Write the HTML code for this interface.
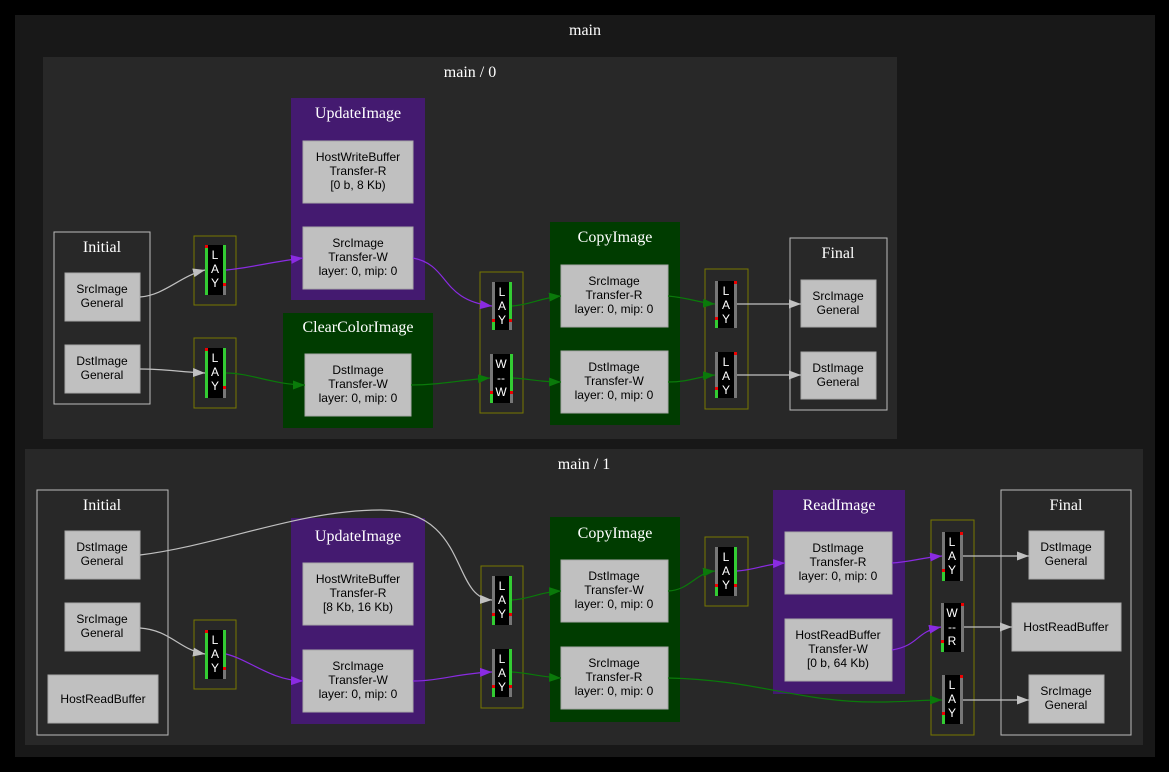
<!DOCTYPE html>
<html><head><meta charset="utf-8"><style>
html,body{margin:0;padding:0;background:#000;}
svg{display:block}
.cl{font-family:"Liberation Serif",serif;font-size:16px;fill:#fff;text-anchor:middle}
.nt{font-family:"Liberation Sans",sans-serif;font-size:12px;fill:#000;text-anchor:middle}
.bt{font-family:"Liberation Sans",sans-serif;font-size:12px;fill:#fff;text-anchor:middle}
.n{fill:#c0c0c0;stroke:#a8a8a8}
.g{stroke:#c0c0c0;fill:none;stroke-width:1.2}
.p{stroke:#8a2be2;fill:none;stroke-width:1.2}
.e{stroke:#0a7a0a;fill:none;stroke-width:1.2}
.bb{fill:none;stroke:#787800}
</style></head><body>
<svg width="1169" height="772" viewBox="0 0 1169 772" xmlns="http://www.w3.org/2000/svg">
<defs>
<marker id="ag" markerWidth="12" markerHeight="9" refX="12" refY="4.5" orient="auto" markerUnits="userSpaceOnUse"><path d="M0,0L12,4.5L0,9z" fill="#c0c0c0"/></marker>
<marker id="ap" markerWidth="12" markerHeight="9" refX="12" refY="4.5" orient="auto" markerUnits="userSpaceOnUse"><path d="M0,0L12,4.5L0,9z" fill="#8a2be2"/></marker>
<marker id="ae" markerWidth="12" markerHeight="9" refX="12" refY="4.5" orient="auto" markerUnits="userSpaceOnUse"><path d="M0,0L12,4.5L0,9z" fill="#0a7a0a"/></marker>
</defs>
<rect x="0" y="0" width="1169" height="772" fill="#000"/>
<rect x="15" y="15" width="1140" height="742" fill="#181818"/>
<text class="cl" x="585" y="35">main</text>
<rect x="43" y="57" width="854" height="382" fill="#282828"/>
<text class="cl" x="470" y="77">main / 0</text>
<rect x="25" y="449" width="1118" height="296" fill="#282828"/>
<text class="cl" x="584" y="469">main / 1</text>

<!-- main/0 -->
<rect x="54" y="232" width="96" height="172" fill="none" stroke="#bbb"/>
<text class="cl" x="102" y="252">Initial</text>
<rect class="n" x="65" y="273" width="75" height="48"/><text class="nt" x="102" y="293">SrcImage</text><text class="nt" x="102" y="307">General</text>
<rect class="n" x="65" y="345" width="75" height="48"/><text class="nt" x="102" y="365">DstImage</text><text class="nt" x="102" y="379">General</text>

<rect x="291" y="98" width="134" height="202" fill="#441a70"/>
<text class="cl" x="358" y="118">UpdateImage</text>
<rect class="n" x="303" y="141" width="110" height="62"/><text class="nt" x="358" y="161">HostWriteBuffer</text><text class="nt" x="358" y="175">Transfer-R</text><text class="nt" x="358" y="189">[0 b, 8 Kb)</text>
<rect class="n" x="303" y="227" width="110" height="62"/><text class="nt" x="358" y="247">SrcImage</text><text class="nt" x="358" y="261">Transfer-W</text><text class="nt" x="358" y="275">layer: 0, mip: 0</text>

<rect x="283" y="313" width="150" height="115" fill="#003c00"/>
<text class="cl" x="358" y="332">ClearColorImage</text>
<rect class="n" x="305" y="354" width="106" height="62"/><text class="nt" x="358" y="374">DstImage</text><text class="nt" x="358" y="388">Transfer-W</text><text class="nt" x="358" y="402">layer: 0, mip: 0</text>

<rect x="550" y="222" width="130" height="203" fill="#003c00"/>
<text class="cl" x="615" y="242">CopyImage</text>
<rect class="n" x="561" y="265" width="107" height="62"/><text class="nt" x="614" y="285">SrcImage</text><text class="nt" x="614" y="299">Transfer-R</text><text class="nt" x="614" y="313">layer: 0, mip: 0</text>
<rect class="n" x="561" y="351" width="107" height="62"/><text class="nt" x="614" y="371">DstImage</text><text class="nt" x="614" y="385">Transfer-W</text><text class="nt" x="614" y="399">layer: 0, mip: 0</text>

<rect x="790" y="238" width="97" height="172" fill="none" stroke="#bbb"/>
<text class="cl" x="838" y="258">Final</text>
<rect class="n" x="801" y="280" width="75" height="47"/><text class="nt" x="838" y="300">SrcImage</text><text class="nt" x="838" y="314">General</text>
<rect class="n" x="801" y="352" width="75" height="47"/><text class="nt" x="838" y="372">DstImage</text><text class="nt" x="838" y="386">General</text>

<!-- barriers main/0 -->
<rect class="bb" x="194" y="236" width="42" height="69"/>
<rect x="205" y="245" width="21" height="50" fill="#000"/><rect x="205" y="245" width="3" height="50" fill="#3c3"/><rect x="205" y="245" width="3" height="3" fill="#e00"/><rect x="223" y="245" width="3" height="50" fill="#3c3"/><rect x="223" y="283" width="3" height="3" fill="#e00"/><rect x="223" y="286" width="3" height="9" fill="#777"/>
<text class="bt" x="215" y="259">L</text><text class="bt" x="215" y="273">A</text><text class="bt" x="215" y="287">Y</text>
<rect class="bb" x="194" y="338" width="42" height="70"/>
<rect x="205" y="348" width="21" height="50" fill="#000"/><rect x="205" y="348" width="3" height="50" fill="#3c3"/><rect x="205" y="348" width="3" height="3" fill="#e00"/><rect x="223" y="348" width="3" height="50" fill="#3c3"/><rect x="223" y="386" width="3" height="3" fill="#e00"/><rect x="223" y="389" width="3" height="9" fill="#777"/>
<text class="bt" x="215" y="362">L</text><text class="bt" x="215" y="376">A</text><text class="bt" x="215" y="390">Y</text>

<rect class="bb" x="480" y="272" width="43" height="141"/>
<rect x="492" y="282" width="20" height="48" fill="#000"/><rect x="492" y="282" width="3" height="48" fill="#777"/><rect x="492" y="319" width="3" height="3" fill="#e00"/><rect x="492" y="322" width="3" height="8" fill="#3c3"/><rect x="509" y="282" width="3" height="37" fill="#3c3"/><rect x="509" y="319" width="3" height="3" fill="#e00"/><rect x="509" y="322" width="3" height="8" fill="#777"/>
<text class="bt" x="502" y="296">L</text><text class="bt" x="502" y="310">A</text><text class="bt" x="502" y="324">Y</text>
<rect x="490" y="354" width="23" height="49" fill="#000"/><rect x="490" y="354" width="3" height="49" fill="#777"/><rect x="490" y="391" width="3" height="3" fill="#e00"/><rect x="490" y="394" width="3" height="9" fill="#3c3"/><rect x="510" y="354" width="3" height="37" fill="#3c3"/><rect x="510" y="391" width="3" height="3" fill="#e00"/><rect x="510" y="394" width="3" height="9" fill="#777"/>
<text class="bt" x="501" y="368">W</text><text class="bt" x="501" y="382">--</text><text class="bt" x="501" y="396">W</text>

<rect class="bb" x="705" y="269" width="43" height="140"/>
<rect x="715" y="281" width="22" height="47" fill="#000"/><rect x="715" y="281" width="3" height="47" fill="#777"/><rect x="715" y="317" width="3" height="3" fill="#e00"/><rect x="715" y="320" width="3" height="8" fill="#3c3"/><rect x="734" y="281" width="3" height="47" fill="#777"/><rect x="734" y="281" width="3" height="3" fill="#e00"/>
<text class="bt" x="726" y="295">L</text><text class="bt" x="726" y="309">A</text><text class="bt" x="726" y="323">Y</text>
<rect x="715" y="352" width="22" height="46" fill="#000"/><rect x="715" y="352" width="3" height="46" fill="#777"/><rect x="715" y="387" width="3" height="3" fill="#e00"/><rect x="715" y="390" width="3" height="8" fill="#3c3"/><rect x="734" y="352" width="3" height="46" fill="#777"/><rect x="734" y="352" width="3" height="3" fill="#e00"/>
<text class="bt" x="726" y="366">L</text><text class="bt" x="726" y="380">A</text><text class="bt" x="726" y="394">Y</text>

<!-- edges main/0 -->
<path class="g" d="M140,297 C165,295 180,276 205,270" marker-end="url(#ag)"/>
<path class="g" d="M140,369 C165,369 180,372 205,373" marker-end="url(#ag)"/>
<path class="p" d="M226,270 C250,268 270,262 303,258" marker-end="url(#ap)"/>
<path class="e" d="M226,373 C250,373 275,385 305,385" marker-end="url(#ae)"/>
<path class="p" d="M413,258 C450,265 440,300 492,306" marker-end="url(#ap)"/>
<path class="e" d="M411,385 C440,385 460,380 490,378" marker-end="url(#ae)"/>
<path class="e" d="M512,306 C530,305 540,298 561,296" marker-end="url(#ae)"/>
<path class="e" d="M513,378 C530,379 540,382 561,382" marker-end="url(#ae)"/>
<path class="e" d="M668,296 C690,298 700,303 715,304" marker-end="url(#ae)"/>
<path class="e" d="M668,382 C690,382 700,376 715,375" marker-end="url(#ae)"/>
<path class="g" d="M737,304 L801,304" marker-end="url(#ag)"/>
<path class="g" d="M737,375 L801,375" marker-end="url(#ag)"/>

<!-- main/1 -->
<rect x="37" y="490" width="131" height="245" fill="none" stroke="#bbb"/>
<text class="cl" x="102" y="510">Initial</text>
<rect class="n" x="65" y="531" width="75" height="48"/><text class="nt" x="102" y="551">DstImage</text><text class="nt" x="102" y="565">General</text>
<rect class="n" x="65" y="603" width="75" height="48"/><text class="nt" x="102" y="623">SrcImage</text><text class="nt" x="102" y="637">General</text>
<rect class="n" x="48" y="675" width="110" height="48"/><text class="nt" x="103" y="703">HostReadBuffer</text>

<rect x="291" y="518" width="134" height="206" fill="#441a70"/>
<text class="cl" x="358" y="541">UpdateImage</text>
<rect class="n" x="303" y="563" width="110" height="62"/><text class="nt" x="358" y="583">HostWriteBuffer</text><text class="nt" x="358" y="597">Transfer-R</text><text class="nt" x="358" y="611">[8 Kb, 16 Kb)</text>
<rect class="n" x="303" y="650" width="110" height="62"/><text class="nt" x="358" y="670">SrcImage</text><text class="nt" x="358" y="684">Transfer-W</text><text class="nt" x="358" y="698">layer: 0, mip: 0</text>

<rect x="550" y="517" width="130" height="205" fill="#003c00"/>
<text class="cl" x="615" y="538">CopyImage</text>
<rect class="n" x="561" y="560" width="107" height="62"/><text class="nt" x="614" y="580">DstImage</text><text class="nt" x="614" y="594">Transfer-W</text><text class="nt" x="614" y="608">layer: 0, mip: 0</text>
<rect class="n" x="561" y="647" width="107" height="62"/><text class="nt" x="614" y="667">SrcImage</text><text class="nt" x="614" y="681">Transfer-R</text><text class="nt" x="614" y="695">layer: 0, mip: 0</text>

<rect x="773" y="490" width="132" height="204" fill="#441a70"/>
<text class="cl" x="839" y="510">ReadImage</text>
<rect class="n" x="785" y="532" width="107" height="62"/><text class="nt" x="838" y="552">DstImage</text><text class="nt" x="838" y="566">Transfer-R</text><text class="nt" x="838" y="580">layer: 0, mip: 0</text>
<rect class="n" x="785" y="619" width="107" height="62"/><text class="nt" x="838" y="639">HostReadBuffer</text><text class="nt" x="838" y="653">Transfer-W</text><text class="nt" x="838" y="667">[0 b, 64 Kb)</text>

<rect x="1001" y="490" width="130" height="245" fill="none" stroke="#bbb"/>
<text class="cl" x="1066" y="510">Final</text>
<rect class="n" x="1029" y="531" width="75" height="48"/><text class="nt" x="1066" y="551">DstImage</text><text class="nt" x="1066" y="565">General</text>
<rect class="n" x="1012" y="603" width="109" height="48"/><text class="nt" x="1066" y="631">HostReadBuffer</text>
<rect class="n" x="1029" y="675" width="75" height="48"/><text class="nt" x="1066" y="695">SrcImage</text><text class="nt" x="1066" y="709">General</text>

<!-- barriers main/1 -->
<rect class="bb" x="194" y="620" width="42" height="69"/>
<rect x="205" y="630" width="21" height="49" fill="#000"/><rect x="205" y="630" width="3" height="49" fill="#3c3"/><rect x="205" y="630" width="3" height="3" fill="#e00"/><rect x="223" y="630" width="3" height="49" fill="#3c3"/><rect x="223" y="667" width="3" height="3" fill="#e00"/><rect x="223" y="670" width="3" height="9" fill="#777"/>
<text class="bt" x="215" y="644">L</text><text class="bt" x="215" y="658">A</text><text class="bt" x="215" y="672">Y</text>

<rect class="bb" x="481" y="566" width="42" height="142"/>
<rect x="492" y="576" width="20" height="49" fill="#000"/><rect x="492" y="576" width="3" height="49" fill="#777"/><rect x="492" y="613" width="3" height="3" fill="#e00"/><rect x="492" y="616" width="3" height="9" fill="#3c3"/><rect x="509" y="576" width="3" height="37" fill="#3c3"/><rect x="509" y="613" width="3" height="3" fill="#e00"/><rect x="509" y="616" width="3" height="9" fill="#777"/>
<text class="bt" x="502" y="590">L</text><text class="bt" x="502" y="604">A</text><text class="bt" x="502" y="618">Y</text>
<rect x="492" y="649" width="20" height="48" fill="#000"/><rect x="492" y="649" width="3" height="48" fill="#777"/><rect x="492" y="685" width="3" height="3" fill="#e00"/><rect x="492" y="688" width="3" height="9" fill="#3c3"/><rect x="509" y="649" width="3" height="36" fill="#3c3"/><rect x="509" y="685" width="3" height="3" fill="#e00"/><rect x="509" y="688" width="3" height="9" fill="#777"/>
<text class="bt" x="502" y="663">L</text><text class="bt" x="502" y="677">A</text><text class="bt" x="502" y="691">Y</text>

<rect class="bb" x="705" y="537" width="43" height="69"/>
<rect x="715" y="547" width="22" height="49" fill="#000"/><rect x="715" y="547" width="3" height="49" fill="#777"/><rect x="715" y="584" width="3" height="3" fill="#e00"/><rect x="715" y="587" width="3" height="9" fill="#3c3"/><rect x="734" y="547" width="3" height="37" fill="#3c3"/><rect x="734" y="584" width="3" height="3" fill="#e00"/><rect x="734" y="587" width="3" height="9" fill="#777"/>
<text class="bt" x="726" y="561">L</text><text class="bt" x="726" y="575">A</text><text class="bt" x="726" y="589">Y</text>

<rect class="bb" x="931" y="520" width="43" height="215"/>
<rect x="942" y="532" width="21" height="49" fill="#000"/><rect x="942" y="532" width="3" height="49" fill="#777"/><rect x="942" y="569" width="3" height="3" fill="#e00"/><rect x="942" y="572" width="3" height="9" fill="#3c3"/><rect x="960" y="532" width="3" height="49" fill="#777"/><rect x="960" y="532" width="3" height="3" fill="#e00"/>
<text class="bt" x="952" y="546">L</text><text class="bt" x="952" y="560">A</text><text class="bt" x="952" y="574">Y</text>
<rect x="941" y="603" width="23" height="49" fill="#000"/><rect x="941" y="603" width="3" height="49" fill="#777"/><rect x="941" y="640" width="3" height="3" fill="#e00"/><rect x="941" y="643" width="3" height="9" fill="#3c3"/><rect x="961" y="603" width="3" height="49" fill="#777"/><rect x="961" y="603" width="3" height="3" fill="#e00"/>
<text class="bt" x="952" y="617">W</text><text class="bt" x="952" y="631">--</text><text class="bt" x="952" y="645">R</text>
<rect x="942" y="675" width="21" height="49" fill="#000"/><rect x="942" y="675" width="3" height="49" fill="#777"/><rect x="942" y="712" width="3" height="3" fill="#e00"/><rect x="942" y="715" width="3" height="9" fill="#3c3"/><rect x="960" y="675" width="3" height="49" fill="#777"/><rect x="960" y="675" width="3" height="3" fill="#e00"/>
<text class="bt" x="952" y="689">L</text><text class="bt" x="952" y="703">A</text><text class="bt" x="952" y="717">Y</text>

<!-- edges main/1 -->
<path class="g" d="M140,555 C220,545 300,510 380,510 C470,510 450,598 492,600" marker-end="url(#ag)"/>
<path class="g" d="M140,628 C170,630 180,650 205,654" marker-end="url(#ag)"/>
<path class="p" d="M226,654 C250,660 270,680 303,681" marker-end="url(#ap)"/>
<path class="p" d="M413,681 C440,681 460,673 492,672" marker-end="url(#ap)"/>
<path class="e" d="M512,600 C530,599 540,592 561,591" marker-end="url(#ae)"/>
<path class="e" d="M512,672 C530,673 540,677 561,678" marker-end="url(#ae)"/>
<path class="e" d="M668,591 C690,590 695,573 715,571" marker-end="url(#ae)"/>
<path class="p" d="M737,571 C755,570 765,564 785,563" marker-end="url(#ap)"/>
<path class="p" d="M892,563 C910,562 920,558 942,556" marker-end="url(#ap)"/>
<path class="p" d="M892,650 C920,645 915,632 941,627" marker-end="url(#ap)"/>
<path class="e" d="M668,678 C760,680 800,703 880,702 C905,702 920,700 942,700" marker-end="url(#ae)"/>
<path class="g" d="M963,556 L1029,556" marker-end="url(#ag)"/>
<path class="g" d="M964,627 L1012,627" marker-end="url(#ag)"/>
<path class="g" d="M963,700 L1029,700" marker-end="url(#ag)"/>
</svg>
</body></html>
